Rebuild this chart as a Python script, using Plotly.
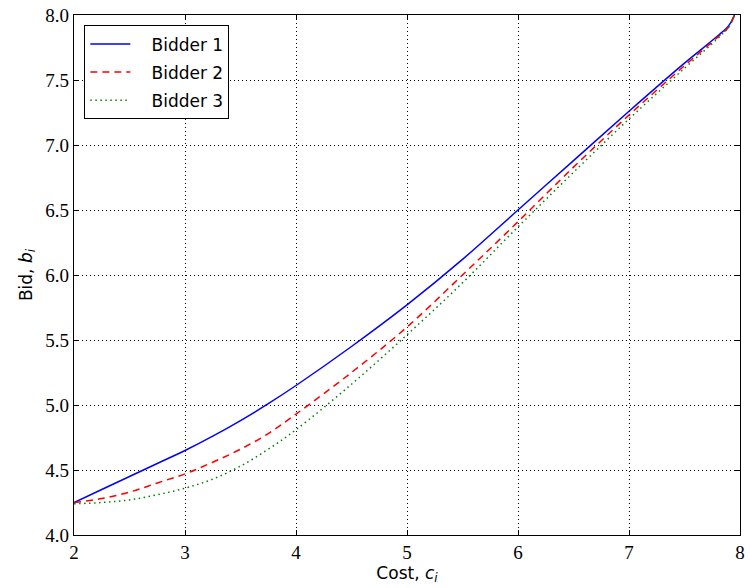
import plotly.graph_objects as go

cost = [2.0, 2.25, 2.5, 2.75, 3.0, 3.25, 3.5, 3.75, 4.0, 4.5, 5.0, 5.5, 6.0, 6.5, 7.0, 7.5, 7.8, 7.9, 7.95]
bid1 = [4.25, 4.35, 4.45, 4.55, 4.65, 4.76, 4.88, 5.01, 5.15, 5.45, 5.77, 6.12, 6.50, 6.88, 7.26, 7.63, 7.84, 7.92, 8.0]
bid2 = [4.25, 4.28, 4.33, 4.40, 4.47, 4.56, 4.66, 4.78, 4.93, 5.25, 5.60, 6.00, 6.41, 6.83, 7.23, 7.61, 7.83, 7.91, 8.0]
bid3 = [4.24, 4.25, 4.27, 4.31, 4.36, 4.43, 4.53, 4.66, 4.81, 5.16, 5.54, 5.94, 6.37, 6.79, 7.20, 7.59, 7.82, 7.91, 8.0]
names = ["Bidder 1", "Bidder 2", "Bidder 3"]

x_ticks = [2, 3, 4, 5, 6, 7, 8]
y_ticks = [4.0, 4.5, 5.0, 5.5, 6.0, 6.5, 7.0, 7.5, 8.0]

NB = "\u00a0"
fig = go.Figure()
fig.add_trace(go.Scatter(x=cost, y=bid1, name=NB * 3 + names[0], mode="lines", legendgroup="g1",
                         line=dict(color="#0000ff", width=1.5, shape="spline")))
fig.add_trace(go.Scatter(x=cost, y=bid2, name=NB * 3 + names[1], mode="lines", legendgroup="g2",
                         line=dict(color="#ff0000", width=1.5, shape="spline", dash="7px,5px")))
fig.add_trace(go.Scatter(x=cost, y=bid3, name=NB * 3 + names[2], mode="lines", legendgroup="g3",
                         line=dict(color="#008000", width=1.5, shape="spline", dash="1.5px,3.5px")))

SERIF = "Liberation Serif"
common = dict(
    showline=True, linecolor="black", linewidth=1.2, mirror="ticks",
    ticks="inside", ticklen=5, tickcolor="black", tickwidth=1,
    showgrid=True, gridcolor="black", griddash="1px,3px", gridwidth=1,
    zeroline=False,
)

fig.update_layout(
    width=750, height=588,
    template="none",
    font=dict(family=SERIF, size=19, color="black"),
    margin=dict(l=74, r=10, t=15, b=53),
    paper_bgcolor="white", plot_bgcolor="white",
    showlegend=True,
    xaxis=dict(range=[2, 8], tickmode="array", tickvals=x_ticks,
               ticktext=[str(v) for v in x_ticks],
               tickfont=dict(family=SERIF, size=19, color="black"),
               title=dict(text="Cost, <i>c</i><sub><i>i</i></sub>",
                          font=dict(family="DejaVu Sans", size=17, color="black"),
                          standoff=3),
               **common),
    yaxis=dict(range=[4, 8], tickmode="array", tickvals=y_ticks,
               ticktext=[f"{v:.1f}" for v in y_ticks],
               tickfont=dict(family=SERIF, size=19, color="black"),
               title=dict(text="Bid, <i>b</i><sub><i>i</i></sub>",
                          font=dict(family="DejaVu Sans", size=17, color="black"),
                          standoff=8),
               **common),
    legend=dict(x=0.0155, y=0.98, xanchor="left", yanchor="top",
                bgcolor="white", bordercolor="black", borderwidth=1,
                font=dict(family="DejaVu Sans", size=17, color="black"),
                itemwidth=40, tracegroupgap=3),
)

fig.write_html("out.html")
